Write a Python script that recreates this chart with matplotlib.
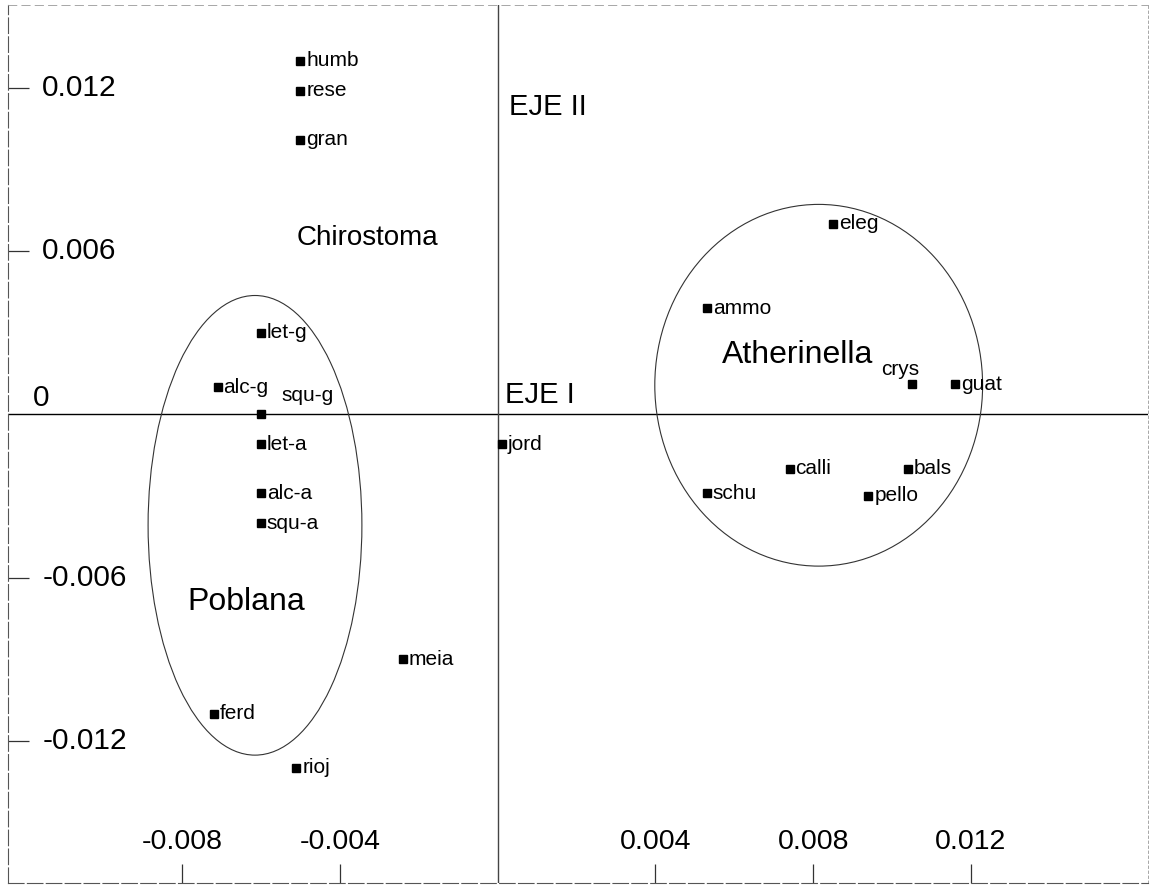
import numpy as np
import matplotlib.pyplot as plt
from matplotlib.patches import Ellipse
from matplotlib.transforms import blended_transform_factory

plt.rcParams['font.family'] = ['Liberation Sans', 'DejaVu Sans']

# Species scores on the first two axes (EJE I, EJE II)
species = ['humb', 'rese', 'gran', 'let-g', 'alc-g', 'squ-g', 'let-a', 'alc-a', 'squ-a',
           'meia', 'ferd', 'rioj', 'jord',
           'eleg', 'ammo', 'crys', 'guat', 'calli', 'bals', 'schu', 'pello']
eje1 = [-0.0050, -0.0050, -0.0050, -0.0060, -0.0071, -0.0060, -0.0060, -0.0060, -0.0060,
        -0.0024, -0.0072, -0.0051, 0.0001,
        0.0085, 0.0053, 0.0105, 0.0116, 0.0074, 0.0104, 0.0053, 0.0094]
eje2 = [0.0130, 0.0119, 0.0101, 0.0030, 0.0010, 0.0000, -0.0011, -0.0029, -0.0040,
        -0.0090, -0.0110, -0.0130, -0.0011,
        0.0070, 0.0039, 0.0011, 0.0011, -0.0020, -0.0020, -0.0029, -0.0030]

# Group outlines: centre x, centre y, width, height
group_names = ['Poblana', 'Atherinella']
group_cx = [-0.00615, 0.00814]
group_cy = [-0.00408, 0.00107]
group_w = [0.00542, 0.00831]
group_h = [0.0169, 0.0133]

# Genus labels and their anchor positions
genus_labels = ['Chirostoma', 'Poblana', 'Atherinella']
genus_x = [-0.00509, -0.00787, 0.00569]
genus_y = [0.00647, -0.00691, 0.00217]
genus_size = [20, 23, 23]

x_ticks = [-0.008, -0.004, 0.004, 0.008, 0.012]
x_tick_labels = ['-0.008', '-0.004', '0.004', '0.008', '0.012']
y_ticks = [0.012, 0.006, 0, -0.006, -0.012]
y_tick_labels = ['0.012', '0.006', '0', '-0.006', '-0.012']

fig = plt.figure(figsize=(11.5, 8.85), dpi=100)
ax = fig.add_axes([0.007, 0.002, 0.991, 0.992])
ax.set_xlim(-0.01241, 0.01648)
ax.set_ylim(-0.01724, 0.01504)

# axis lines through the origin
ax.axhline(0, color='black', linewidth=1.0, zorder=1)
ax.axvline(0, color='#444444', linewidth=1.0, zorder=1)

ax.plot(eje1, eje2, linestyle='none', marker='s', markersize=5.5, color='black', zorder=3)

# labels sit to the right of the marker, except two that are moved to avoid overlaps
offsets = {'squ-g': (21, 19, 'left'), 'crys': (-12, 15, 'center')}
for name, x, y in zip(species, eje1, eje2):
    dx, dy, ha = offsets.get(name, (6, 0, 'left'))
    ax.annotate(name, (x, y), xytext=(dx, dy), textcoords='offset pixels',
                ha=ha, va='center', fontsize=15, zorder=4)

for cx, cy, w, h in zip(group_cx, group_cy, group_w, group_h):
    ax.add_patch(Ellipse((cx, cy), w, h, fill=False, edgecolor='#333333', linewidth=0.8, zorder=2))

for label, x, y, fs in zip(genus_labels, genus_x, genus_y, genus_size):
    ax.text(x, y, label, ha='left', va='center', fontsize=fs)

ax.text(0.0003, 0.0113, 'EJE II', ha='left', va='center', fontsize=21)
ax.text(0.0002, 0.0007, 'EJE I', ha='left', va='center', fontsize=21)

# ticks drawn inside the frame, labels placed by hand inside the plot
ax.set_xticks(x_ticks)
ax.set_xticklabels([])
ax.set_yticks([t for t in y_ticks if t != 0])
ax.set_yticklabels([])
ax.tick_params(axis='x', direction='in', length=14, width=0.9, color='#333333')
ax.tick_params(axis='y', direction='in', length=15, width=0.9, color='#333333')

xtrans = blended_transform_factory(ax.transData, ax.transAxes)
for t, lab in zip(x_ticks, x_tick_labels):
    ax.text(t, 0.047, lab, transform=xtrans, ha='center', va='center', fontsize=20.5)

ytrans = blended_transform_factory(ax.transAxes, ax.transData)
for t, lab in zip(y_ticks, y_tick_labels):
    if t == 0:
        ax.text(0.022, t + 0.0001, lab, transform=ytrans, ha='left', va='bottom', fontsize=21.5)
    else:
        ax.text(0.030, t, lab, transform=ytrans, ha='left', va='center', fontsize=21.5)

# frame
ax.spines['left'].set_linestyle((0, (14, 3)))
ax.spines['bottom'].set_linestyle((0, (14, 3)))
ax.spines['right'].set_linestyle((0, (3, 3)))
ax.spines['top'].set_linestyle((0, (10, 6)))
for side in ['left', 'bottom']:
    ax.spines[side].set_color('#555555')
    ax.spines[side].set_linewidth(0.8)
for side in ['right', 'top']:
    ax.spines[side].set_color('#999999')
    ax.spines[side].set_linewidth(0.6)

plt.savefig('out.png', dpi=100)
